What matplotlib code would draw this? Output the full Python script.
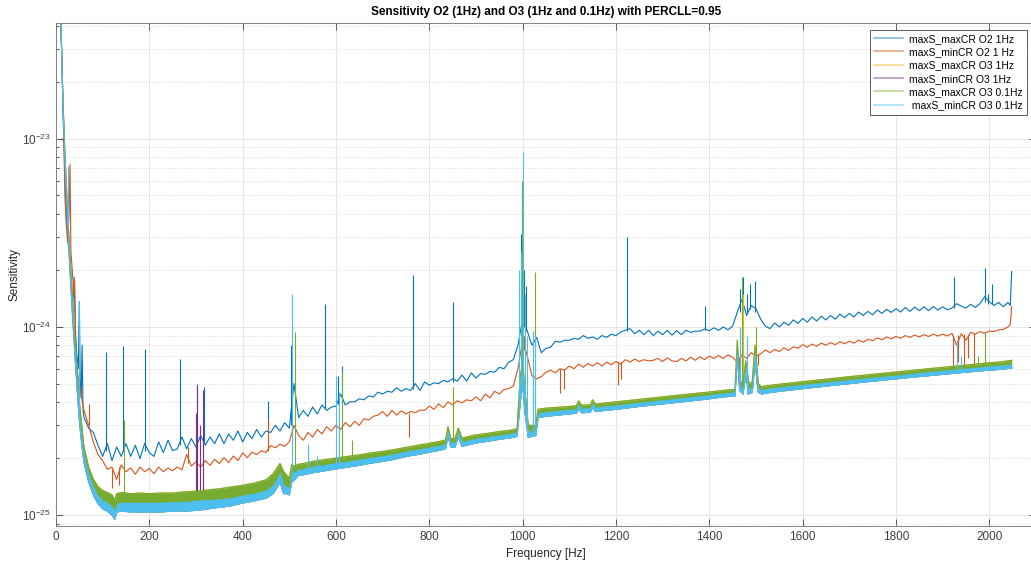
import numpy as np
import matplotlib
matplotlib.use("Agg")
import matplotlib.pyplot as plt
from matplotlib.ticker import FixedLocator, LogLocator, NullFormatter, MultipleLocator

plt.rcParams['font.family'] = ['Liberation Sans', 'DejaVu Sans']

# all sensitivity values below are in units of 1e-25
UNIT = 1e-25

# ---- O2 1Hz, maxCR (blue) ----
blue_low_f = [10, 12, 15, 18, 20, 23, 26, 30, 33, 36, 39, 42, 45, 48, 50, 52, 54, 56, 58]
blue_low_v = [450, 300, 140, 80, 55, 38, 28, 24, 17, 13, 18.4, 9, 7, 6, 13.6, 5, 4.2, 8.0, 3.6]
grid_f = list(range(60, 2041, 10)) + [2045, 2048]
blue_v = [
    3.3, 2.9, 2.75, 2.35, 2.05, 2.4, 1.95, 2.3, 2.05, 2.4,
    2.05, 2.35, 2.0, 2.4, 2.15, 2.05, 2.45, 2.15, 2.5, 2.2,
    2.25, 2.6, 2.25, 2.55, 2.3, 2.65, 2.35, 2.6, 2.4, 2.7,
    2.4, 2.7, 2.5, 2.8, 2.45, 2.75, 2.55, 2.85, 2.6, 2.8,
    2.75, 3.0, 2.8, 3.1, 2.9, 5.0, 3.3, 3.6, 3.35, 3.75,
    3.45, 3.85, 3.6, 3.75, 3.8, 4.4, 3.85, 4.0, 4.0, 4.15,
    4.1, 4.3, 4.25, 4.5, 4.4, 4.55, 4.5, 4.75, 4.55, 4.7,
    4.6, 5.0, 4.6, 5.1, 4.9, 5.05, 5.0, 5.2, 5.1, 5.3,
    5.15, 5.55, 5.15, 5.7, 5.35, 5.65, 5.6, 5.8, 5.75, 6.1,
    6.0, 6.5, 6.7, 8.0, 11.0, 9.5, 8.0, 8.8, 7.3, 7.7,
    7.8, 8.4, 8.3, 8.5, 8.5, 8.7, 8.6, 9.0, 8.7, 8.85,
    8.6, 9.0, 8.8, 9.15, 9.0, 9.4, 9.6, 9.8, 9.2, 9.6,
    9.1, 9.6, 9.0, 9.5, 9.1, 9.6, 9.05, 9.55, 9.1, 9.6,
    9.35, 9.5, 9.5, 9.75, 9.55, 9.9, 9.6, 10.0, 9.65, 10.1,
    12.0, 14.0, 11.5, 13.0, 12.5, 11.0, 10.1, 9.8, 10.5, 10.0,
    10.6, 10.2, 10.9, 10.45, 11.1, 10.6, 11.3, 10.75, 11.4, 10.9,
    11.5, 11.0, 11.7, 11.2, 11.8, 11.3, 12.0, 11.5, 12.1, 11.6,
    12.3, 11.8, 12.4, 11.95, 12.5, 12.0, 12.7, 12.1, 12.75, 12.2,
    12.8, 12.2, 12.85, 12.3, 12.8, 12.35, 12.6, 13.3, 12.9, 12.6,
    13.2, 12.7, 13.3, 14.5, 13.6, 13.0, 13.5, 12.8, 13.5,
    13.0, 19.7]
blue_spk_f = [107, 144, 190, 266, 302, 317, 455, 503, 576, 604, 612, 764, 850, 996, 1003, 1007,
              1223, 1390, 1465, 1472, 1480, 1488, 1497, 1925, 1990, 1997, 2005]
blue_spk_base = [2.2, 2.2, 2.2, 2.35, 2.45, 2.45, 2.7, 3.0, 3.7, 3.9, 4.0, 4.7, 5.1, 9.0, 10.0, 9.5,
                 9.5, 9.6, 12.0, 13.0, 12.0, 12.5, 12.0, 12.6, 13.5, 13.2, 13.3]
blue_spk_top = [7.4, 7.95, 7.6, 6.75, 5.0, 4.8, 4.06, 8.0, 13.3, 5.5, 6.2, 18.8, 13.6, 31.0, 20.0, 16.5,
                30.0, 13.0, 16.0, 18.4, 15.0, 17.0, 17.5, 18.4, 20.6, 15.0, 17.0]

# ---- O2 1Hz, minCR (orange) ----
orange_low_f = [13, 15, 17, 19, 22, 25, 28, 30, 32, 35, 38, 40, 42, 44, 47, 50, 53, 56, 58]
orange_low_v = [100, 98, 95, 50, 35, 28, 40, 73, 25, 20, 15, 17.8, 9, 6.7, 5.5, 5, 4.5, 4.0, 3.8]
orange_v = [
    3.6, 3.0, 2.45, 2.1, 1.95, 1.75, 1.8, 1.55, 1.85, 1.7,
    1.78, 1.65, 1.8, 1.7, 1.77, 1.66, 1.8, 1.7, 1.78, 1.72,
    1.8, 1.74, 2.1, 1.82, 1.92, 1.8, 1.95, 1.84, 1.98, 1.88,
    2.02, 1.9, 2.06, 1.95, 2.14, 2.02, 2.16, 2.1, 2.2, 2.15,
    2.34, 2.28, 2.38, 2.32, 2.45, 3.0, 2.65, 2.5, 2.75, 2.6,
    2.85, 2.7, 2.95, 2.8, 3.0, 2.85, 3.1, 2.95, 3.15, 3.0,
    3.25, 3.2, 3.35, 3.4, 3.55, 3.35, 3.6, 3.4, 3.58, 3.45,
    3.55, 3.5, 3.62, 3.6, 3.8, 3.65, 3.9, 3.72, 4.0, 3.85,
    4.05, 3.95, 4.1, 4.05, 4.25, 4.05, 4.4, 4.2, 4.55, 4.4,
    4.65, 4.7, 4.85, 6.0, 8.5, 7.0, 5.5, 5.3, 5.45, 5.75,
    5.9, 5.7, 6.0, 5.9, 6.2, 6.0, 6.35, 6.1, 6.4, 6.2,
    6.45, 6.2, 6.5, 6.3, 6.55, 6.35, 6.7, 6.5, 6.75, 6.55,
    6.7, 6.6, 6.65, 6.8, 6.55, 6.85, 6.6, 6.55, 6.8, 6.6,
    6.9, 6.65, 6.95, 6.7, 7.0, 6.8, 7.05, 6.8, 7.1, 6.9,
    6.5, 7.1, 6.8, 7.3, 7.0, 7.2, 7.55, 7.3, 7.6, 7.4,
    7.75, 7.5, 7.85, 7.7, 8.05, 7.8, 8.1, 7.9, 8.2, 8.0,
    8.25, 8.05, 8.35, 8.15, 8.4, 8.2, 8.5, 8.3, 8.6, 8.45,
    8.75, 8.55, 8.85, 8.65, 8.9, 8.7, 9.0, 8.8, 9.05, 8.85,
    9.1, 8.9, 9.15, 8.95, 9.15, 8.95, 9.25, 8.0, 9.2, 8.5,
    9.35, 9.15, 9.45, 9.25, 9.5, 9.45, 9.65, 9.7, 10.0,
    10.3, 12.8]
orange_spk_f = [70, 120, 135, 282, 455, 756, 998, 1003, 1080, 1088, 1205, 1210, 1463, 1470, 1500, 1505,
                1923, 1932, 1945, 1955, 1968]
orange_spk_base = [3.0, 1.75, 1.8, 1.9, 2.2, 3.5, 6.5, 7.5, 6.0, 6.0, 6.5, 6.5, 6.9, 7.0, 7.1, 7.2,
                   9.1, 9.1, 9.2, 9.2, 9.3]
orange_spk_top = [3.9, 1.4, 1.45, 2.3, 3.2, 2.6, 11.9, 9.0, 4.45, 4.7, 4.9, 5.3, 5.9, 6.2, 5.9, 6.3,
                  5.7, 6.5, 6.0, 6.8, 5.8]

# ---- O3 traces (dense, drawn as bands: bottom, cyan top, green top) ----
o3_f = [10, 12, 15, 18, 20, 25, 30, 35, 40, 45, 50, 55, 60, 70, 80, 90, 100, 110, 120, 126,
        130, 140, 160, 180, 200, 225, 250, 275, 300, 325, 350, 375, 400, 425, 450, 465, 475, 480, 488, 495,
        500, 505, 512, 518, 530, 550, 575, 600, 625, 650, 675, 700, 725, 750, 775, 800, 825, 835, 840, 846,
        855, 862, 870, 900, 925, 950, 975, 988, 995, 1000, 1005, 1012, 1020, 1028, 1033, 1050, 1075, 1100, 1115, 1120,
        1126, 1145, 1150, 1156, 1175, 1200, 1250, 1300, 1350, 1400, 1430, 1455, 1460, 1465, 1472, 1478, 1485, 1492, 1498, 1505,
        1512, 1520, 1550, 1600, 1650, 1700, 1750, 1800, 1850, 1900, 1950, 2000, 2025, 2048]
o3_lo = [450, 300, 150, 90, 65, 35, 20, 12, 7.5, 4.8, 3.2, 2.4, 1.9, 1.5, 1.28, 1.15, 1.08, 1.05, 1.0, 0.95,
         1.04, 1.05, 1.04, 1.04, 1.04, 1.04, 1.05, 1.05, 1.06, 1.08, 1.1, 1.12, 1.16, 1.19, 1.23, 1.3, 1.42, 1.5, 1.3, 1.3,
         1.28, 1.5, 1.55, 1.62, 1.64, 1.68, 1.72, 1.76, 1.8, 1.84, 1.89, 1.93, 1.98, 2.05, 2.1, 2.16, 2.22, 2.26, 2.65, 2.3,
         2.3, 2.6, 2.32, 2.42, 2.47, 2.53, 2.58, 2.62, 4.0, 5.0, 3.5, 2.6, 2.62, 2.65, 3.3, 3.35, 3.4, 3.45, 3.48, 3.7,
         3.5, 3.52, 3.75, 3.55, 3.6, 3.65, 3.78, 3.9, 4.02, 4.15, 4.25, 4.3, 7.0, 4.6, 4.4, 5.5, 4.4, 4.5, 6.5, 4.5,
         4.4, 4.45, 4.55, 4.7, 4.85, 5.0, 5.15, 5.3, 5.45, 5.6, 5.75, 5.9, 5.95, 6.05]
o3_mid = [450, 300, 155, 95, 70, 38, 22, 13, 8.2, 5.3, 3.5, 2.65, 2.1, 1.65, 1.42, 1.28, 1.2, 1.17, 1.12, 1.06,
          1.16, 1.17, 1.17, 1.17, 1.17, 1.17, 1.18, 1.18, 1.2, 1.21, 1.22, 1.24, 1.28, 1.31, 1.36, 1.45, 1.6, 1.7, 1.45, 1.42,
          1.4, 1.7, 1.7, 1.75, 1.77, 1.82, 1.86, 1.9, 1.94, 1.98, 2.03, 2.07, 2.12, 2.19, 2.24, 2.3, 2.36, 2.4, 2.85, 2.44,
          2.44, 2.78, 2.46, 2.56, 2.61, 2.67, 2.72, 2.77, 5.0, 6.0, 4.2, 2.8, 2.8, 2.85, 3.5, 3.55, 3.6, 3.65, 3.68, 3.92,
          3.7, 3.72, 3.96, 3.75, 3.8, 3.85, 3.98, 4.1, 4.23, 4.36, 4.46, 4.52, 8.0, 4.9, 4.7, 6.2, 4.7, 4.8, 7.5, 4.8,
          4.65, 4.7, 4.8, 4.95, 5.1, 5.25, 5.4, 5.55, 5.72, 5.88, 6.04, 6.2, 6.26, 6.35]
o3_hi = [450, 300, 160, 100, 75, 40, 24, 14.5, 9.0, 6.0, 4.0, 3.0, 2.3, 1.8, 1.55, 1.42, 1.35, 1.32, 1.28, 1.2,
         1.3, 1.32, 1.3, 1.31, 1.3, 1.31, 1.31, 1.33, 1.34, 1.36, 1.38, 1.41, 1.44, 1.48, 1.54, 1.66, 1.8, 1.88, 1.7, 1.62,
         1.58, 1.85, 1.82, 1.86, 1.88, 1.93, 1.97, 2.01, 2.05, 2.09, 2.14, 2.18, 2.23, 2.29, 2.35, 2.41, 2.47, 2.51, 2.95, 2.55,
         2.55, 2.9, 2.57, 2.67, 2.72, 2.78, 2.83, 2.88, 5.5, 6.5, 4.6, 3.0, 3.0, 3.0, 3.65, 3.7, 3.74, 3.78, 3.82, 4.05,
         3.84, 3.86, 4.1, 3.89, 3.94, 4.0, 4.12, 4.25, 4.38, 4.51, 4.6, 4.66, 8.5, 5.2, 5.0, 6.6, 5.0, 5.1, 8.0, 5.0,
         4.8, 4.86, 4.96, 5.12, 5.28, 5.44, 5.6, 5.76, 5.93, 6.1, 6.27, 6.45, 6.52, 6.65]

cyan_spk_f = [25, 50, 505, 540, 560, 600, 607, 993, 997, 1001, 1004, 1010, 1022, 1026, 1465, 1480, 1930, 1940]
cyan_spk_base = [35, 3.2, 1.5, 1.65, 1.7, 1.76, 1.78, 4.0, 5.0, 6.0, 4.0, 2.6, 2.62, 2.65, 4.6, 4.4, 5.7, 5.75]
cyan_spk_top = [72, 13.6, 15.0, 2.4, 2.05, 5.5, 4.5, 20.0, 25.0, 85.0, 15.0, 9.0, 9.5, 9.0, 10.0, 9.0, 8.5, 7.0]
green_spk_f = [145, 512, 612, 635, 850, 999, 1026, 1470, 1500, 1975, 1990]
green_spk_base = [1.3, 1.82, 2.0, 2.06, 2.55, 6.5, 3.0, 5.0, 5.0, 6.4, 6.45]
green_spk_top = [3.2, 9.4, 5.8, 2.5, 4.8, 60.0, 19.7, 18.4, 10.0, 7.0, 9.3]
yellow_spk_f = [850, 1001, 1472]
yellow_spk_base = [2.5, 6.0, 5.0]
yellow_spk_top = [4.8, 60.0, 15.0]
purple_spk_f = [300, 303, 308, 315]
purple_spk_base = [1.06, 1.06, 1.07, 1.07]
purple_spk_top = [3.5, 4.9, 3.0, 4.6]

labels = ['maxS_maxCR O2 1Hz', 'maxS_minCR O2 1 Hz', 'maxS_maxCR O3 1Hz',
          'maxS_minCR O3 1Hz', 'maxS_maxCR O3 0.1Hz', ' maxS_minCR O3 0.1Hz']
colors = ['#0072BD', '#D95319', '#EDB120', '#7E2F8E', '#77AC30', '#4DBEEE']


def sc(v):
    return np.array(v) * UNIT


fig = plt.figure(figsize=(10.31, 5.62), dpi=100)
ax = fig.add_axes([0.0543, 0.0632, 0.9505, 0.895])
lw = 0.8

ax.plot(blue_low_f + grid_f, sc(blue_low_v + blue_v), color=colors[0], lw=lw, label=labels[0], zorder=2)
ax.vlines(blue_spk_f, sc(blue_spk_base), sc(blue_spk_top), color=colors[0], lw=lw, zorder=2)

ax.plot(orange_low_f + grid_f, sc(orange_low_v + orange_v), color=colors[1], lw=lw, label=labels[1], zorder=3)
ax.vlines(orange_spk_f, sc(orange_spk_base), sc(orange_spk_top), color=colors[1], lw=lw, zorder=3)

ax.plot(o3_f, sc(o3_hi), color=colors[2], lw=lw, label=labels[2], zorder=4)
ax.vlines(yellow_spk_f, sc(yellow_spk_base), sc(yellow_spk_top), color=colors[2], lw=lw, zorder=4)

ax.plot(o3_f, sc(o3_lo), color=colors[3], lw=lw, label=labels[3], zorder=5)
ax.vlines(purple_spk_f, sc(purple_spk_base), sc(purple_spk_top), color=colors[3], lw=lw, zorder=5)

ax.fill_between(o3_f, sc(o3_lo), sc(o3_hi), color=colors[4], lw=0, zorder=6)
ax.plot(o3_f, sc(o3_hi), color=colors[4], lw=lw, label=labels[4], zorder=6)
ax.vlines(green_spk_f, sc(green_spk_base), sc(green_spk_top), color=colors[4], lw=lw, zorder=6)

ax.fill_between(o3_f, sc(o3_lo), sc(o3_mid), color=colors[5], lw=0, zorder=7)
ax.plot(o3_f, sc(o3_lo), color=colors[5], lw=lw, label=labels[5], zorder=7)
ax.vlines(cyan_spk_f, sc(cyan_spk_base), sc(cyan_spk_top), color=colors[5], lw=lw, zorder=7)

ax.set_yscale('log')
ax.set_xlim(0, 2100)
ax.set_ylim(8.7e-26, 4.1e-23)
ax.xaxis.set_major_locator(MultipleLocator(200))
ax.yaxis.set_major_locator(FixedLocator([1e-25, 1e-24, 1e-23]))
ax.yaxis.set_minor_locator(LogLocator(base=10, subs=np.arange(2, 10), numticks=30))
ax.yaxis.set_minor_formatter(NullFormatter())
ax.tick_params(which='both', direction='in', top=True, right=True, colors='#404040', labelsize=8.5)
ax.tick_params(which='major', length=5, width=0.6)
ax.tick_params(which='minor', length=2.5, width=0.6)
ax.grid(which='major', color='#e2e2e2', lw=0.6)
ax.grid(which='minor', axis='y', color='#d0d0d0', lw=0.6, linestyle=(0, (1, 2)))
ax.set_axisbelow(True)
for s in ax.spines.values():
    s.set_color('#707070')
    s.set_linewidth(0.6)

ax.set_title('Sensitivity O2 (1Hz) and O3 (1Hz and 0.1Hz) with PERCLL=0.95',
             fontsize=8.5, fontweight='bold', pad=6)
ax.set_xlabel('Frequency [Hz]', fontsize=8.5, color='#262626', labelpad=3)
ax.set_ylabel('Sensitivity', fontsize=8.5, color='#262626', labelpad=1)

leg = ax.legend(loc='upper right', bbox_to_anchor=(0.991, 0.988), borderaxespad=0, fontsize=7.5,
                fancybox=False, framealpha=1, edgecolor='#404040', handlelength=2.8,
                labelspacing=0.32, borderpad=0.4, handletextpad=0.6)
leg.get_frame().set_linewidth(0.6)
for line in leg.get_lines():
    line.set_alpha(0.5)
    line.set_linewidth(1.2)

fig.savefig('out.png', dpi=100)
